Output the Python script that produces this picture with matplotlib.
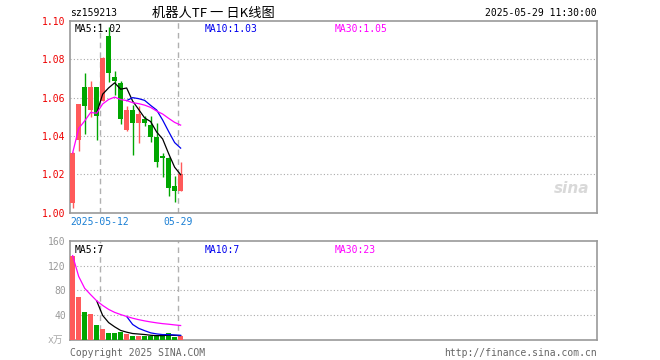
import numpy as np
import pandas as pd
import matplotlib
matplotlib.use("Agg")
import matplotlib.pyplot as plt

# daily bars
dates = ["04-30", "05-06", "05-07", "05-08", "05-09",
         "05-12", "05-13", "05-14", "05-15", "05-16",
         "05-19", "05-20", "05-21", "05-22", "05-23",
         "05-26", "05-27", "05-28", "05-29"]
opens = [1.0053, 1.0380, 1.0655, 1.0534, 1.0655, 1.0581, 1.0918, 1.0707, 1.0677, 1.0433,
         1.0534, 1.0467, 1.0487, 1.0457, 1.0394, 1.0296, 1.0284, 1.0140, 1.0114]
highs = [1.0315, 1.0566, 1.0730, 1.0686, 1.0655, 1.0809, 1.0967, 1.0739, 1.0688, 1.0555,
         1.0560, 1.0557, 1.0506, 1.0505, 1.0467, 1.0310, 1.0293, 1.0193, 1.0263]
lows = [1.0026, 1.0320, 1.0408, 1.0499, 1.0380, 1.0581, 1.0683, 1.0613, 1.0460, 1.0426,
        1.0300, 1.0364, 1.0450, 1.0371, 1.0240, 1.0189, 1.0088, 1.0057, 1.0114]
closes = [1.0312, 1.0566, 1.0557, 1.0655, 1.0502, 1.0808, 1.0730, 1.0688, 1.0489, 1.0534,
          1.0467, 1.0513, 1.0467, 1.0394, 1.0263, 1.0286, 1.0131, 1.0114, 1.0201]
volumes = [136, 69, 45, 42, 24, 18, 11, 11, 13, 10, 7, 7, 7, 7, 7, 7, 11, 5, 6]

marked_dates = ["05-12", "05-29"]
date_labels = ["2025-05-12", "05-29"]
price_ticks = [1.00, 1.02, 1.04, 1.06, 1.08, 1.10]
vol_ticks = [40, 80, 120, 160]

RED = "#ff5a5a"
GREEN = "#00a600"
GRAY = "#999999"
MONO = ["DejaVu Sans Mono", "Noto Sans CJK SC"]

plt.rcParams["font.family"] = MONO

df = pd.DataFrame({"o": opens, "h": highs, "l": lows, "c": closes, "v": volumes})
x = np.arange(len(df))
up = df["c"] >= df["o"]
colors = np.where(up, RED, GREEN)

ma_price = {
    5: df["c"].rolling(5).mean(),
    10: df["c"].rolling(10).mean(),
    30: df["c"].expanding().mean(),
}
ma_vol = {
    5: df["v"].rolling(5).mean(),
    10: df["v"].rolling(10).mean(),
    30: df["v"].expanding().mean(),
}
ma_colors = {5: "black", 10: "#0000ee", 30: "#ff00ff"}
ma_label_x = {5: 0.008, 10: 0.255, 30: 0.502}

fig = plt.figure(figsize=(6.6, 3.6), dpi=100)
ax = fig.add_axes([0.106, 0.4086, 0.7985, 0.534])
axv = fig.add_axes([0.106, 0.0556, 0.7985, 0.2758])

xmin, xmax = -0.45, 87.4
mark_x = [dates.index(d) - 0.45 for d in marked_dates]

for a in (ax, axv):
    a.set_xlim(xmin, xmax)
    for s in a.spines.values():
        s.set_color(GRAY)
        s.set_linewidth(1.2)
    for mx in mark_x:
        a.axvline(mx, color="#b0b0b0", lw=1, ls=(0, (4, 3)), zorder=0)
    a.tick_params(length=0, pad=3, labelsize=7)

# candles
ax.vlines(x, df["l"], df["h"], colors=colors, lw=1, zorder=2)
body_lo = np.minimum(df["o"], df["c"])
body_h = np.maximum(np.abs(df["c"] - df["o"]), 0.0004)
ax.bar(x, body_h, bottom=body_lo, width=0.83, color=colors, zorder=3)
for n, s in ma_price.items():
    ax.plot(x, s, color=ma_colors[n], lw=0.9, zorder=4)
    ax.text(ma_label_x[n], 0.985, f"MA{n}:{s.iloc[-1]:.2f}", transform=ax.transAxes,
            color=ma_colors[n], fontsize=7, va="top", ha="left")

ax.set_ylim(1.00, 1.10)
ax.set_yticks(price_ticks)
ax.set_yticklabels([f"{t:.2f}" for t in price_ticks], color="#ee0000")
for t in price_ticks[1:-1]:
    ax.axhline(t, color="#aaaaaa", lw=0.8, ls=(0, (1, 2)), zorder=0)
ax.set_xticks(mark_x)
ax.set_xticklabels(date_labels, color="#1a7fd4")

ax.text(0.985, 0.09, "sina", transform=ax.transAxes, ha="right", va="bottom",
        fontsize=11, style="italic", weight="bold", color="#d9d9d9", family="DejaVu Sans")

# volume
axv.bar(x, df["v"], width=0.83, color=colors, zorder=3)
for n, s in ma_vol.items():
    axv.plot(x, s, color=ma_colors[n], lw=0.9, zorder=4)
    axv.text(ma_label_x[n], 0.96, f"MA{n}:{s.iloc[-1]:.0f}", transform=axv.transAxes,
             color=ma_colors[n], fontsize=7, va="top", ha="left")
axv.set_ylim(0, 160)
axv.set_yticks(vol_ticks)
axv.set_yticklabels([str(t) for t in vol_ticks], color="#999999")
for t in vol_ticks[:-1]:
    axv.axhline(t, color="#aaaaaa", lw=0.8, ls=(0, (1, 2)), zorder=0)
axv.set_xticks([])
axv.text(-0.012, 0.0, "x万", transform=axv.transAxes, ha="right", va="center",
         fontsize=7, color="#aaaaaa")

# header / footer
fig.text(0.106, 0.963, "sz159213", fontsize=7, va="center", ha="left")
fig.text(0.323, 0.963, "机器人TF 一 日K线图", fontsize=9.5, va="center", ha="center",
         family=["Noto Sans CJK SC", "DejaVu Sans"])
fig.text(0.9045, 0.963, "2025-05-29 11:30:00", fontsize=7, va="center", ha="right")
fig.text(0.106, 0.02, "Copyright 2025 SINA.COM", fontsize=7, va="center", ha="left",
         color="#666666")
fig.text(0.9045, 0.02, "http://finance.sina.com.cn", fontsize=7, va="center", ha="right",
         color="#666666")

fig.savefig("out.png", dpi=100)
